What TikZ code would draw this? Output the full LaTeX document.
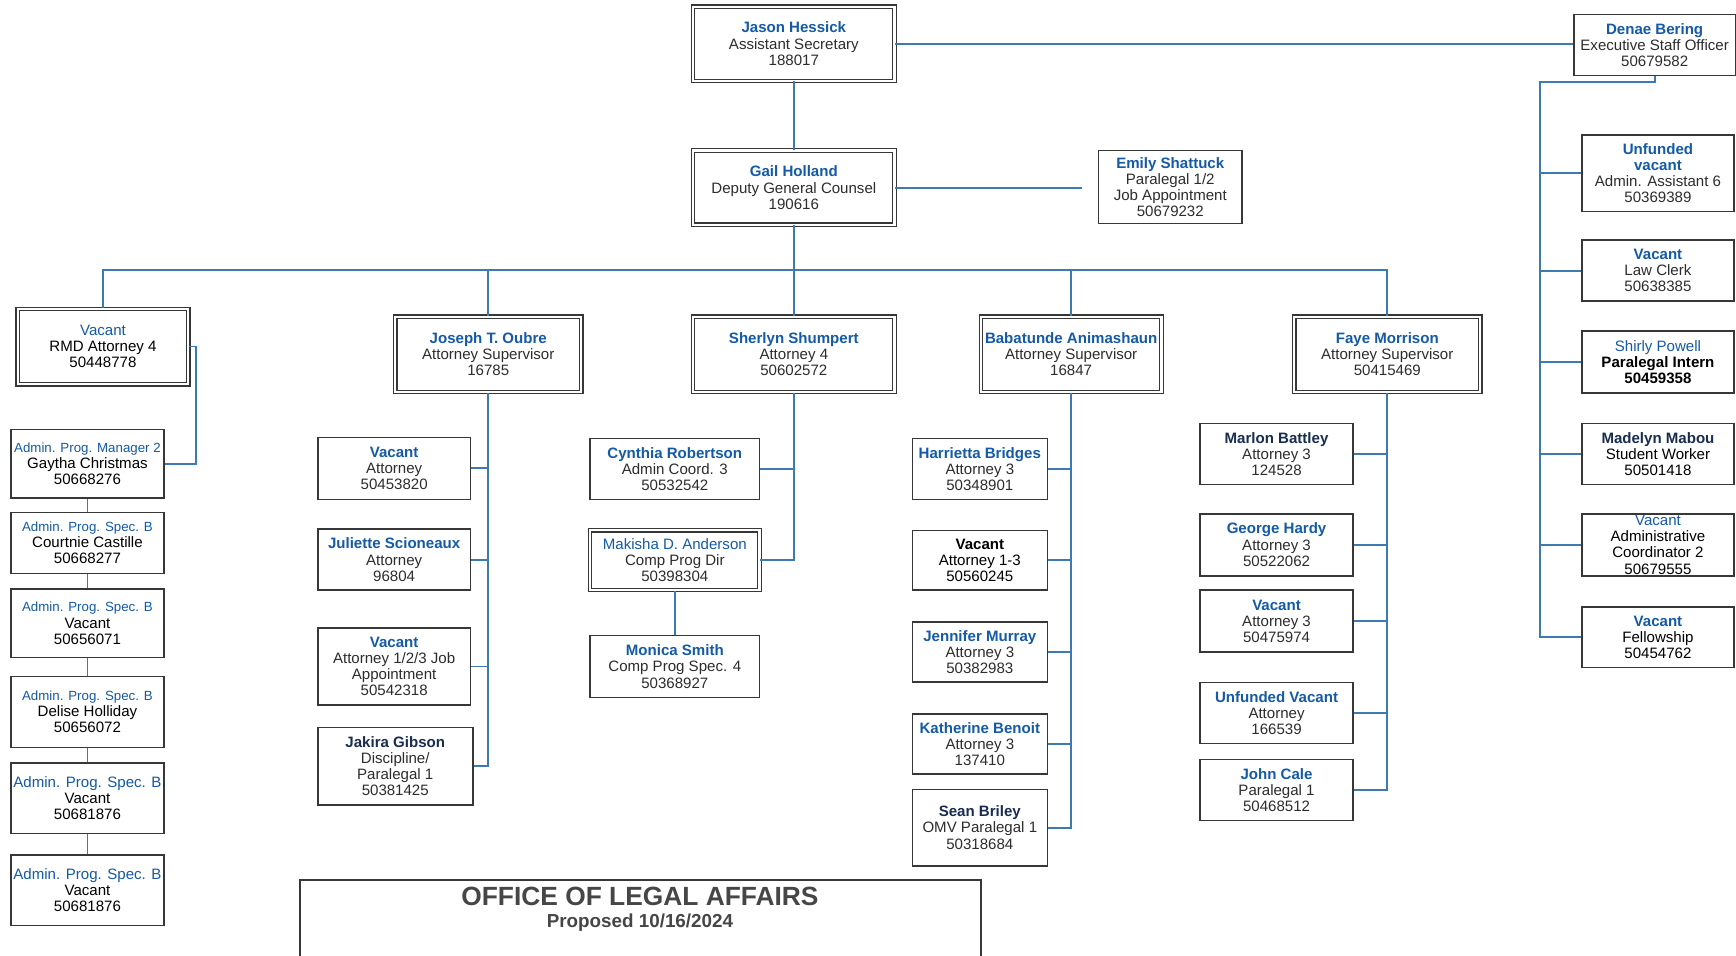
\documentclass[tikz,border=0pt]{standalone}
\usepackage{fontspec}
\setmainfont{Liberation Sans}
\definecolor{nameblue}{RGB}{20,90,165}
\definecolor{navy}{RGB}{25,45,80}
\definecolor{linec}{RGB}{60,122,175}
\definecolor{boxc}{RGB}{55,55,55}
\definecolor{txt}{RGB}{45,45,45}
\definecolor{titlec}{RGB}{70,70,70}
\newcommand{\fs}{\fontsize{6.8}{7.3}\selectfont}
\newcommand{\fss}{\fontsize{6.0}{7.3}\selectfont}
\newcommand{\nmb}[1]{{\bfseries\color{nameblue}#1}}
\newcommand{\nmr}[1]{{\color{nameblue}#1}}
\begin{document}
\begin{tikzpicture}[x=0.5pt,y=-0.5pt,
  box/.style={draw=boxc, line width=0.7pt, fill=white, inner sep=0pt, align=center, font=\fs, text=txt},
  dbox/.style={box, double=white, double distance=1.0pt, line width=0.55pt},
  conn/.style={draw=linec, line width=0.85pt}]
\useasboundingbox (0,0) rectangle (1568,863);
% top
\node[dbox, minimum width=91pt, minimum height=33.5pt] (jason) at (717,39.5) {\nmb{Jason Hessick}\\Assistant Secretary\\188017};
\node[box, minimum width=73pt, minimum height=27.5pt] (denae) at (1494.5,40.5) {\nmb{Denae Bering}\\Executive Staff Officer\\50679582};
\node[dbox, minimum width=91pt, minimum height=33.5pt] (gail) at (717,169.5) {\nmb{Gail Holland}\\Deputy General Counsel\\190616};
\node[box, minimum width=65pt, minimum height=33pt] (emily) at (1057,169) {\nmb{Emily Shattuck}\\Paralegal 1/2\\Job Appointment\\50679232};
\coordinate (emilyend) at (977,169.5);
% level 3
\node[dbox, minimum width=77pt, minimum height=34pt] (rmd) at (93,313) {\nmr{Vacant}\\{\color{black}RMD Attorney 4}\\{\color{black}50448778}};
\node[dbox, minimum width=84pt, minimum height=34pt] (joseph) at (441,320) {\nmb{Joseph T. Oubre}\\Attorney Supervisor\\16785};
\node[dbox, minimum width=91pt, minimum height=34pt] (sherlyn) at (717,320) {\nmb{Sherlyn Shumpert}\\Attorney 4\\50602572};
\node[dbox, minimum width=81.5pt, minimum height=34pt] (bab) at (967.5,320) {\nmb{Babatunde Animashaun}\\Attorney Supervisor\\16847};
\node[dbox, minimum width=84pt, minimum height=34pt] (faye) at (1253,320) {\nmb{Faye Morrison}\\Attorney Supervisor\\50415469};
% left column
\node[box, text=black, minimum width=69pt, minimum height=31pt] (a1) at (79,419) {{\fss\color{nameblue}Admin. Prog. Manager 2}\\Gaytha Christmas\\50668276};
\node[box, text=black, minimum width=69pt, minimum height=27.5pt] (a2) at (79,490.5) {{\fss\color{nameblue}Admin. Prog. Spec. B}\\Courtnie Castille\\50668277};
\node[box, text=black, minimum width=69pt, minimum height=31pt] (a3) at (79,563) {{\fss\color{nameblue}Admin. Prog. Spec. B}\\Vacant\\50656071};
\node[box, text=black, minimum width=69pt, minimum height=32pt] (a4) at (79,643) {{\fss\color{nameblue}Admin. Prog. Spec. B}\\Delise Holliday\\50656072};
\node[box, text=black, minimum width=69pt, minimum height=32pt] (a5) at (79,721) {\nmr{Admin. Prog. Spec. B}\\Vacant\\50681876};
\node[box, text=black, minimum width=69pt, minimum height=32pt] (a6) at (79,804) {\nmr{Admin. Prog. Spec. B}\\Vacant\\50681876};
% Joseph column
\node[box, minimum width=69pt, minimum height=28pt] (j1) at (356,423) {\nmb{Vacant}\\Attorney\\50453820};
\node[box, minimum width=69pt, minimum height=27.5pt] (j2) at (356,505.5) {\nmb{Juliette Scioneaux}\\Attorney\\96804};
\node[box, minimum width=69pt, minimum height=35pt] (j3) at (356,602) {\nmb{Vacant}\\Attorney 1/2/3 Job\\Appointment\\50542318};
\node[box, minimum width=70pt, minimum height=35pt] (j4) at (357,692) {{\bfseries\color{navy}Jakira Gibson}\\Discipline/\\Paralegal 1\\50381425};
% Sherlyn column
\node[box, minimum width=76.5pt, minimum height=27.5pt] (s1) at (609.5,423.5) {\nmb{Cynthia Robertson}\\Admin Coord. 3\\50532542};
\node[dbox, minimum width=76.5pt, minimum height=27pt] (s2) at (609.5,506) {\nmr{Makisha D. Anderson}\\Comp Prog Dir\\50398304};
\node[box, minimum width=76.5pt, minimum height=28pt] (s3) at (609.5,602) {\nmb{Monica Smith}\\Comp Prog Spec. 4\\50368927};
% Babatunde column
\node[box, minimum width=61pt, minimum height=27.5pt] (b1) at (885,423.5) {\nmb{Harrietta Bridges}\\Attorney 3\\50348901};
\node[box, text=black, minimum width=61pt, minimum height=27pt] (b2) at (885,506) {\textbf{Vacant}\\Attorney 1-3\\50560245};
\node[box, minimum width=61pt, minimum height=27pt] (b3) at (885,589) {\nmb{Jennifer Murray}\\Attorney 3\\50382983};
\node[box, minimum width=61pt, minimum height=27pt] (b4) at (885,672) {\nmb{Katherine Benoit}\\Attorney 3\\137410};
\node[box, minimum width=61pt, minimum height=34.5pt] (b5) at (885,747.5) {{\bfseries\color{navy}Sean Briley}\\OMV Paralegal 1\\50318684};
% Faye column
\node[box, minimum width=69pt, minimum height=27.5pt] (f1) at (1153,410) {{\bfseries\color{navy}Marlon Battley}\\Attorney 3\\124528};
\node[box, minimum width=69pt, minimum height=28pt] (f2) at (1153,492) {\nmb{George Hardy}\\Attorney 3\\50522062};
\node[box, minimum width=69pt, minimum height=28pt] (f3) at (1153,561) {\nmb{Vacant}\\Attorney 3\\50475974};
\node[box, minimum width=69pt, minimum height=27.5pt] (f4) at (1153,644) {\nmb{Unfunded Vacant}\\Attorney\\166539};
\node[box, minimum width=69pt, minimum height=27.5pt] (f5) at (1153,713.5) {\nmb{John Cale}\\Paralegal 1\\50468512};
% Denae column
\node[box, minimum width=68.5pt, minimum height=34.5pt] (d1) at (1497.5,156.5) {\nmb{Unfunded}\\\nmb{vacant}\\Admin. Assistant 6\\50369389};
\node[box, minimum width=68.5pt, minimum height=27.5pt] (d2) at (1497.5,244.5) {\nmb{Vacant}\\Law Clerk\\50638385};
\node[box, text=black, minimum width=68.5pt, minimum height=28pt] (d3) at (1497.5,327) {\nmr{Shirly Powell}\\\textbf{Paralegal Intern}\\\textbf{50459358}};
\node[box, text=black, minimum width=68.5pt, minimum height=27.5pt] (d4) at (1497.5,410) {{\bfseries\color{navy}Madelyn Mabou}\\Student Worker\\50501418};
\node[box, text=black, minimum width=68.5pt, minimum height=28pt] (d5) at (1497.5,492) {\nmr{Vacant}\\Administrative\\Coordinator 2\\50679555};
\node[box, text=black, minimum width=68.5pt, minimum height=27.5pt] (d6) at (1497.5,575.5) {\nmb{Vacant}\\Fellowship\\50454762};
% title
\node[draw=boxc, line width=0.8pt, minimum width=307.5pt, minimum height=45pt, inner sep=0pt] (titlebox) at (578.5,840) {};
\node[font=\fontsize{11.9}{13}\selectfont\bfseries, text=titlec, inner sep=0pt] (title) at (578,810) {OFFICE OF LEGAL AFFAIRS};
\node[font=\fontsize{8.5}{9}\selectfont\bfseries, text=titlec, inner sep=0pt] (tdate) at (578,833) {Proposed 10/16/2024};
% connectors
\coordinate (bus) at (0,244);
\coordinate (lx) at (177,0);
\coordinate (dx) at (1391,74);
\draw[conn] (jason.east) -- (jason.east -| denae.west);
\draw[conn] (jason.south) -- (gail.north);
\draw[conn] (gail.east) -- (emilyend);
\draw[conn] (gail.south) -- (sherlyn.north);
\draw[conn] (rmd.north) -- (rmd.north |- bus) -- (faye.north |- bus) -- (faye.north);
\draw[conn] (joseph.north) -- (joseph.north |- bus);
\draw[conn] (bab.north) -- (bab.north |- bus);
% left
\draw[conn] (rmd.east) -- (rmd.east -| lx) |- (a1.east);
\draw[conn] (a1.south) -- (a2.north);
\draw[conn] (a2.south) -- (a3.north);
\draw[conn] (a3.south) -- (a4.north);
\draw[conn] (a4.south) -- (a5.north);
\draw[conn] (a5.south) -- (a6.north);
% joseph
\draw[conn] (joseph.south) |- (j4.east);
\foreach \n in {j1,j2,j3} \draw[conn] (\n.east) -- (\n.east -| joseph.south);
% sherlyn
\draw[conn] (sherlyn.south) |- (s2.east);
\draw[conn] (s1.east) -- (s1.east -| sherlyn.south);
\draw[conn] (s2.south) -- (s3.north);
% babatunde
\draw[conn] (bab.south) |- (b5.east);
\foreach \n in {b1,b2,b3,b4} \draw[conn] (\n.east) -- (\n.east -| bab.south);
% faye
\draw[conn] (faye.south) |- (f5.east);
\foreach \n in {f1,f2,f3,f4} \draw[conn] (\n.east) -- (\n.east -| faye.south);
% denae
\draw[conn] (denae.south) |- (dx) |- (d6.west);
\foreach \n in {d1,d2,d3,d4,d5} \draw[conn] (\n.west) -- (\n.west -| dx);
\end{tikzpicture}
\end{document}
